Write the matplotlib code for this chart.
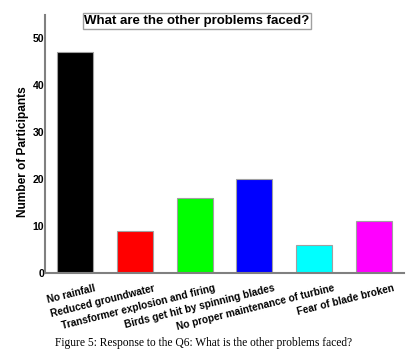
import matplotlib
matplotlib.use("Agg")
import matplotlib.pyplot as plt
import matplotlib.transforms as mtransforms

categories = ["No rainfall", "Reduced groundwater", "Transformer explosion and firing",
              "Birds get hit by spinning blades", "No proper maintenance of turbine",
              "Fear of blade broken"]
values = [47, 9, 16, 20, 6, 11]
colors = ["#000000", "#ff0000", "#00ff00", "#0000ff", "#00ffff", "#ff00ff"]
yticks = [0, 10, 20, 30, 40, 50]

plt.rcParams['font.family'] = ['Liberation Sans', 'DejaVu Sans']

fig = plt.figure(figsize=(4.18, 3.57), dpi=100)
ax = fig.add_axes([45/418, 1-272.7/357, (404-45)/418, (272.7-15)/357])

x = list(range(len(categories)))
ax.bar(x, values, width=0.6, color=colors, edgecolor="#a0a0a0", linewidth=0.8)
ax.set_xlim(-0.5, 5.5)
ax.set_ylim(0, 55)
ax.set_yticks(yticks)
ax.set_yticklabels([str(t) for t in yticks], fontsize=7.6, fontweight='bold')
ax.tick_params(axis='y', length=0, pad=0.5)
ax.set_xticks(x)
ax.set_xticklabels(categories, fontsize=7.3, fontweight='bold', rotation=14,
                   ha='right', va='top', rotation_mode='anchor')
ax.tick_params(axis='x', length=0, pad=7.5)
offset = mtransforms.ScaledTranslation(19/100, 0, fig.dpi_scale_trans)
for lbl in ax.get_xticklabels():
    lbl.set_transform(lbl.get_transform() + offset)

for s in ['top', 'right']:
    ax.spines[s].set_visible(False)
for s in ['left', 'bottom']:
    ax.spines[s].set_color('#808080')
    ax.spines[s].set_linewidth(1.5)

ax.set_ylabel("Number of Participants", fontsize=8.6, fontweight='bold')
ax.yaxis.set_label_coords(-0.045, 0.47)

fig.text(197/418, 1-21/357, "What are the other problems faced?", ha='center', va='center',
         fontsize=9.5, fontweight='bold',
         bbox=dict(boxstyle='square,pad=0.12', facecolor='white', edgecolor='#a0a0a0', linewidth=1))

fig.text(203.5/418, 1-343/357, "Figure 5: Response to the Q6: What is the other problems faced?",
         ha='center', va='center', fontsize=8.3, family=['Liberation Serif', 'DejaVu Serif'])

fig.savefig("out.png", dpi=100)
